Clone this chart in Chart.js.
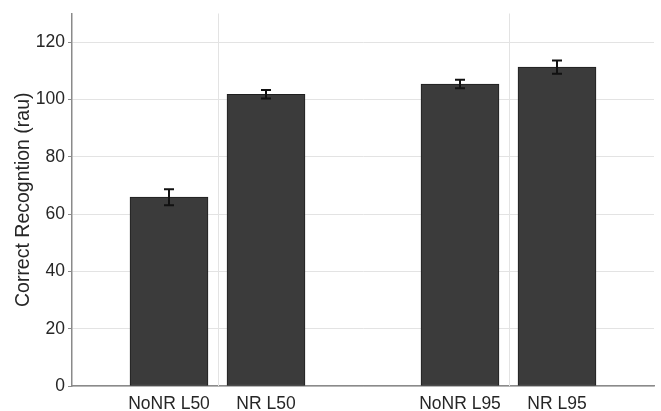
<!DOCTYPE html>
<html>
<head>
<meta charset="utf-8">
<script src="https://cdn.jsdelivr.net/npm/chart.js@4.4.1/dist/chart.umd.min.js"></script>
<style>
  html, body { margin: 0; padding: 0; background: #fff; }
  #wrap { width: 661px; height: 411px; position: relative; }
</style>
</head>
<body>
<div id="wrap"><canvas id="chart"></canvas></div>
<script>
// data
const labels = ['NoNR L50', 'NR L50', 'NoNR L95', 'NR L95'];
const positions = [1, 2, 4, 5];
const scores = [65.9, 101.8, 105.4, 111.3];
const errors = [2.8, 1.5, 1.5, 2.3];
const dividers = [1.5, 4.5];
const yTicks = [0, 20, 40, 60, 80, 100, 120];

const axisGrey = '#8a8a8a';
const gridGrey = '#e3e3e3';
const textCol = '#262626';
const tickFont = { family: '"Liberation Sans", Arial, sans-serif', size: 17.5 };
const titleFont = { family: '"Liberation Sans", Arial, sans-serif', size: 19.5 };

// vertical separators + error bars
const extras = {
  id: 'extras',
  beforeDatasetsDraw(chart) {
    const { ctx, chartArea, scales: { x } } = chart;
    ctx.save();
    ctx.strokeStyle = gridGrey;
    ctx.lineWidth = 1;
    dividers.forEach(v => {
      const px = Math.round(x.getPixelForValue(v)) + 0.5;
      ctx.beginPath();
      ctx.moveTo(px, chartArea.top);
      ctx.lineTo(px, chartArea.bottom);
      ctx.stroke();
    });
    ctx.restore();
  },
  afterDatasetsDraw(chart) {
    const { ctx, scales: { y } } = chart;
    const meta = chart.getDatasetMeta(0);
    ctx.save();
    ctx.strokeStyle = '#111';
    ctx.lineWidth = 2;
    meta.data.forEach((bar, i) => {
      const cx = Math.round(bar.x);
      const top = y.getPixelForValue(scores[i] + errors[i]);
      const bot = y.getPixelForValue(scores[i] - errors[i]);
      ctx.beginPath();
      ctx.moveTo(cx, bot);
      ctx.lineTo(cx, top);
      ctx.moveTo(cx - 5, top);
      ctx.lineTo(cx + 5, top);
      ctx.moveTo(cx - 5, bot);
      ctx.lineTo(cx + 5, bot);
      ctx.stroke();
    });
    ctx.restore();
  }
};

new Chart(document.getElementById('chart'), {
  type: 'bar',
  data: {
    datasets: [{
      data: positions.map((p, i) => ({ x: p, y: scores[i] })),
      backgroundColor: '#3b3b3b',
      borderColor: '#1e1e1e',
      borderWidth: 1,
      borderSkipped: false,
      barThickness: 78
    }]
  },
  options: {
    responsive: true,
    maintainAspectRatio: false,
    animation: false,
    layout: { padding: { top: 10, right: 7, left: 0, bottom: 0 } },
    plugins: { legend: { display: false }, tooltip: { enabled: false } },
    scales: {
      x: {
        type: 'linear',
        offset: false,
        min: 0,
        max: 6,
        afterBuildTicks: s => { s.ticks = positions.map(v => ({ value: v })); },
        afterFit: s => { s.height = 25; },
        ticks: {
          color: textCol,
          font: tickFont,
          padding: 8,
          autoSkip: false,
          maxRotation: 0,
          callback: v => labels[positions.indexOf(v)]
        },
        grid: { display: false, drawTicks: false, offset: false },
        border: { display: true, color: axisGrey, width: 1.5 }
      },
      y: {
        min: 0,
        max: 130,
        afterBuildTicks: s => { s.ticks = yTicks.map(v => ({ value: v })); },
        afterFit: s => { s.width = 72; },
        ticks: { color: textCol, font: tickFont, padding: 3 },
        grid: { color: gridGrey, lineWidth: 1, drawTicks: true, tickLength: 4, tickColor: axisGrey },
        border: { display: true, color: axisGrey, width: 1.5 },
        title: {
          display: true,
          text: 'Correct Recogntion (rau)',
          color: textCol,
          font: titleFont,
          padding: { top: 12, bottom: 0 }
        }
      }
    }
  },
  plugins: [extras]
});
</script>
</body>
</html>
